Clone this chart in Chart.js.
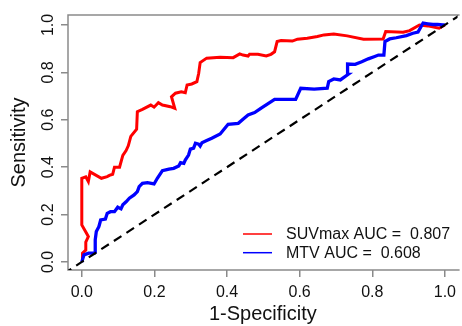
<!DOCTYPE html>
<html>
<head>
<meta charset="utf-8">
<script src="https://cdn.jsdelivr.net/npm/chart.js@4.4.1/dist/chart.umd.min.js"></script>
<style>
    html, body { margin: 0; padding: 0; background: #fff; }
    #wrap { width: 462px; height: 326px; position: relative; }
</style>
</head>
<body>
<div id="wrap"><canvas id="roc"></canvas></div>
<script>
// ROC curves
const suvFpr = [0.002, 0.002, 0.011, 0.011, 0.018, 0.013, 0.0, 0.0, 0.011, 0.018, 0.023, 0.054, 0.07, 0.076, 0.085, 0.09, 0.104, 0.113, 0.122, 0.128, 0.135, 0.151, 0.153, 0.167, 0.19, 0.199, 0.211, 0.222, 0.244, 0.256, 0.247, 0.258, 0.274, 0.285, 0.29, 0.303, 0.317, 0.322, 0.326, 0.344, 0.381, 0.417, 0.435, 0.444, 0.458, 0.462, 0.485, 0.508, 0.521, 0.531, 0.538, 0.549, 0.58, 0.594, 0.621, 0.649, 0.667, 0.694, 0.731, 0.776, 0.83, 0.837, 0.885, 0.903, 0.93, 0.953, 0.984, 1.0];
const suvTpr = [0.001, 0.037, 0.05, 0.084, 0.107, 0.121, 0.156, 0.353, 0.359, 0.339, 0.38, 0.353, 0.36, 0.365, 0.37, 0.40, 0.40, 0.45, 0.47, 0.49, 0.53, 0.56, 0.634, 0.644, 0.662, 0.653, 0.672, 0.662, 0.655, 0.648, 0.697, 0.712, 0.718, 0.714, 0.747, 0.751, 0.761, 0.796, 0.841, 0.86, 0.864, 0.862, 0.878, 0.873, 0.869, 0.876, 0.876, 0.869, 0.876, 0.887, 0.93, 0.934, 0.932, 0.94, 0.944, 0.951, 0.958, 0.962, 0.954, 0.94, 0.941, 0.972, 0.969, 0.976, 1.0, 0.996, 0.986, 1.0];

const mtvFpr = [0.0, 0.006, 0.019, 0.038, 0.037, 0.04, 0.047, 0.052, 0.065, 0.07, 0.079, 0.09, 0.099, 0.108, 0.113, 0.122, 0.131, 0.144, 0.153, 0.158, 0.167, 0.181, 0.199, 0.208, 0.222, 0.24, 0.253, 0.267, 0.272, 0.281, 0.285, 0.294, 0.299, 0.308, 0.313, 0.322, 0.326, 0.331, 0.344, 0.358, 0.381, 0.394, 0.403, 0.431, 0.444, 0.458, 0.476, 0.494, 0.512, 0.531, 0.589, 0.603, 0.64, 0.676, 0.68, 0.694, 0.712, 0.733, 0.732, 0.753, 0.771, 0.789, 0.805, 0.817, 0.832, 0.835, 0.848, 0.866, 0.894, 0.912, 0.926, 0.94, 0.953, 0.967, 0.98, 0.994, 1.0];
const mtvTpr = [0.0, 0.03, 0.037, 0.037, 0.093, 0.128, 0.149, 0.177, 0.181, 0.205, 0.212, 0.212, 0.231, 0.224, 0.241, 0.254, 0.269, 0.283, 0.297, 0.318, 0.332, 0.335, 0.329, 0.353, 0.385, 0.392, 0.395, 0.405, 0.419, 0.416, 0.43, 0.451, 0.476, 0.48, 0.501, 0.497, 0.489, 0.503, 0.512, 0.522, 0.54, 0.564, 0.581, 0.585, 0.602, 0.62, 0.63, 0.649, 0.667, 0.686, 0.686, 0.733, 0.729, 0.733, 0.761, 0.772, 0.768, 0.791, 0.835, 0.834, 0.845, 0.857, 0.866, 0.873, 0.873, 0.93, 0.941, 0.946, 0.955, 0.965, 0.97, 1.008, 1.005, 1.002, 1.002, 1.0, 1.0];

const refLine = [-0.05, 1.05];

const seriesNames = ['SUVmax AUC =  0.807', 'MTV AUC =  0.608'];
const xTicks = [0, 0.2, 0.4, 0.6, 0.8, 1.0];
const yTicks = [0, 0.2, 0.4, 0.6, 0.8, 1.0];
const xTitle = '1-Specificity';
const yTitle = 'Sensitivity';

const FONT = "'Liberation Sans', Arial, Helvetica, sans-serif";
const FRAME = '#8a8a8a';

function toPoints(xs, ys) {
    return xs.map((x, i) => ({ x: x, y: ys[i] }));
}

// top / left / bottom frame like the R plot box
const framePlugin = {
    id: 'frame',
    beforeDatasetsDraw(chart) {
        const { ctx, chartArea: a } = chart;
        ctx.save();
        ctx.strokeStyle = FRAME;
        ctx.lineWidth = 1.5;
        ctx.beginPath();
        ctx.moveTo(a.right + 2, a.top);
        ctx.lineTo(a.left, a.top);
        ctx.lineTo(a.left, a.bottom);
        ctx.lineTo(a.right + 2, a.bottom);
        ctx.stroke();
        ctx.restore();
    }
};

// rotated y tick labels (R style, las = 0)
const yLabelPlugin = {
    id: 'yLabels',
    afterDraw(chart) {
        const { ctx, scales } = chart;
        ctx.save();
        ctx.fillStyle = '#111';
        ctx.font = '16px ' + FONT;
        ctx.textAlign = 'center';
        ctx.textBaseline = 'alphabetic';
        yTicks.forEach(v => {
            const py = scales.y.getPixelForValue(v);
            ctx.save();
            ctx.translate(53, py);
            ctx.rotate(-Math.PI / 2);
            ctx.fillText(v.toFixed(1), 0, 0);
            ctx.restore();
        });
        ctx.restore();
    }
};

// legend in the lower right corner of the plot
const legendPlugin = {
    id: 'rocLegend',
    afterDraw(chart) {
        const { ctx } = chart;
        const colors = ['#ff0000', '#0000ff'];
        ctx.save();
        ctx.font = '16px ' + FONT;
        ctx.textBaseline = 'middle';
        ctx.textAlign = 'left';
        seriesNames.forEach((name, i) => {
            const y = 234 + i * 18.7;
            ctx.strokeStyle = colors[i];
            ctx.lineWidth = 1.5;
            ctx.beginPath();
            ctx.moveTo(243, y);
            ctx.lineTo(272, y);
            ctx.stroke();
            ctx.fillStyle = '#111';
            ctx.fillText(name, 286, y + 0.5);
        });
        ctx.restore();
    }
};

const ctx = document.getElementById('roc').getContext('2d');
const rocChart = new Chart(ctx, {
    type: 'scatter',
    data: {
        datasets: [
            {
                label: seriesNames[0],
                data: toPoints(suvFpr, suvTpr),
                showLine: true,
                borderColor: '#ff0000',
                borderWidth: 3,
                pointRadius: 0,
                tension: 0,
                order: 3
            },
            {
                label: seriesNames[1],
                data: toPoints(mtvFpr, mtvTpr),
                showLine: true,
                borderColor: '#0000ff',
                borderWidth: 3.3,
                pointRadius: 0,
                tension: 0,
                order: 2
            },
            {
                label: 'reference',
                data: toPoints(refLine, refLine),
                showLine: true,
                borderColor: '#000',
                borderWidth: 2.2,
                borderDash: [9, 6],
                pointRadius: 0,
                order: 1
            }
        ]
    },
    options: {
        responsive: true,
        maintainAspectRatio: false,
        animation: false,
        devicePixelRatio: 1,
        layout: { padding: { top: 15, right: 0, left: 0, bottom: 0 } },
        plugins: {
            legend: { display: false },
            tooltip: { enabled: false }
        },
        scales: {
            x: {
                type: 'linear',
                min: -0.038,
                max: 1.035,
                afterBuildTicks: scale => { scale.ticks = xTicks.map(v => ({ value: v })); },
                afterFit: scale => { scale.height = 56; },
                border: { display: false },
                grid: {
                    drawOnChartArea: false,
                    drawTicks: true,
                    tickLength: 7,
                    tickColor: FRAME,
                    lineWidth: 1.5
                },
                ticks: {
                    color: '#111',
                    font: { family: FONT, size: 16 },
                    padding: 6,
                    maxRotation: 0,
                    autoSkip: false,
                    callback: v => Number(v).toFixed(1)
                },
                title: {
                    display: true,
                    text: xTitle,
                    color: '#111',
                    font: { family: FONT, size: 20 },
                    padding: { top: 0, bottom: 0 }
                }
            },
            y: {
                type: 'linear',
                min: -0.034,
                max: 1.042,
                afterBuildTicks: scale => { scale.ticks = yTicks.map(v => ({ value: v })); },
                afterFit: scale => { scale.width = 68; },
                border: { display: false },
                grid: {
                    drawOnChartArea: false,
                    drawTicks: true,
                    tickLength: 7,
                    tickColor: FRAME,
                    lineWidth: 1.5
                },
                ticks: { display: false },
                title: {
                    display: true,
                    text: yTitle,
                    color: '#111',
                    font: { family: FONT, size: 20 },
                    padding: { top: 7, bottom: 0 }
                }
            }
        }
    },
    plugins: [framePlugin, yLabelPlugin, legendPlugin]
});
</script>
</body>
</html>
